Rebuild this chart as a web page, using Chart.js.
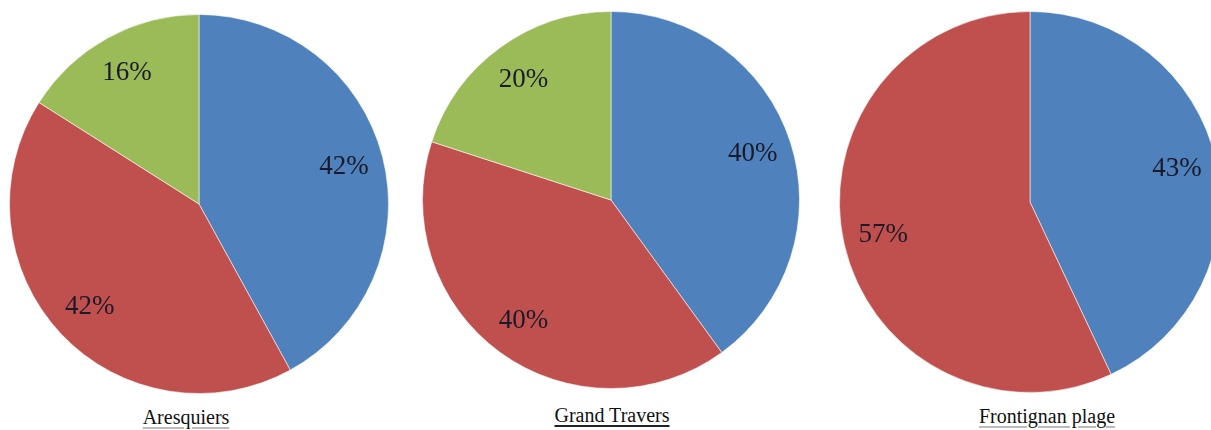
<!DOCTYPE html>
<html>
<head>
<meta charset="utf-8">
<script src="https://cdn.jsdelivr.net/npm/chart.js@4"></script>
<style>
  html, body { margin: 0; padding: 0; background: #fff; width: 1211px; height: 430px; overflow: hidden; }
  .pie { position: absolute; }
  .site {
    position: absolute; transform: translateX(-50%);
    font-family: "Liberation Serif", serif; font-size: 20px; color: #111;
    text-decoration: underline; text-decoration-color: #bbb; text-underline-offset: 3px;
    white-space: nowrap;
  }
  .site.main { text-decoration-color: #222; text-decoration-thickness: 2px; }
</style>
</head>
<body>

<div class="pie" style="left:9px; top:14px; width:380px; height:380px;"><canvas id="pie1"></canvas></div>
<div class="pie" style="left:422px; top:11px; width:378px; height:378px;"><canvas id="pie2"></canvas></div>
<div class="pie" style="left:839px; top:11px; width:382px; height:382px;"><canvas id="pie3"></canvas></div>

<div class="site" style="left:186px; top:406px;">Aresquiers</div>
<div class="site main" style="left:612px; top:404px;">Grand Travers</div>
<div class="site" style="left:1047px; top:405px;">Frontignan plage</div>

<script>
// Parts (%) per site
const categories = ['Série 1', 'Série 2', 'Série 3'];
const aresquiers = [42, 42, 16];
const grandTravers = [40, 40, 20];
const frontignan = [43, 57];

const colors = ['#4F81BD', '#C0504D', '#9BBB59'];
const labelFont = '27px "Liberation Serif", serif';

// pourcentages dans les parts
const pctLabels = {
  id: 'pctLabels',
  afterDatasetsDraw(chart) {
    const ctx = chart.ctx;
    const values = chart.data.datasets[0].data;
    ctx.save();
    ctx.font = labelFont;
    ctx.fillStyle = '#1a1a2a';
    ctx.textAlign = 'center';
    ctx.textBaseline = 'middle';
    chart.getDatasetMeta(0).data.forEach((arc, i) => {
      const p = arc.getProps(['x', 'y', 'startAngle', 'endAngle', 'outerRadius'], true);
      const mid = (p.startAngle + p.endAngle) / 2;
      const r = p.outerRadius * 0.79;
      ctx.fillText(values[i] + '%', p.x + Math.cos(mid) * r, p.y + Math.sin(mid) * r);
    });
    ctx.restore();
  }
};

function pie(id, values) {
  new Chart(document.getElementById(id), {
    type: 'pie',
    data: {
      labels: categories.slice(0, values.length),
      datasets: [{
        data: values,
        backgroundColor: colors.slice(0, values.length),
        borderColor: 'rgba(255,255,255,0.55)',
        borderWidth: 1
      }]
    },
    options: {
      responsive: true,
      maintainAspectRatio: false,
      animation: false,
      layout: { padding: 0 },
      plugins: {
        legend: { display: false },
        tooltip: { enabled: false }
      }
    },
    plugins: [pctLabels]
  });
}

document.fonts.load(labelFont).then(() => {
  pie('pie1', aresquiers);
  pie('pie2', grandTravers);
  pie('pie3', frontignan);
});
</script>
</body>
</html>
